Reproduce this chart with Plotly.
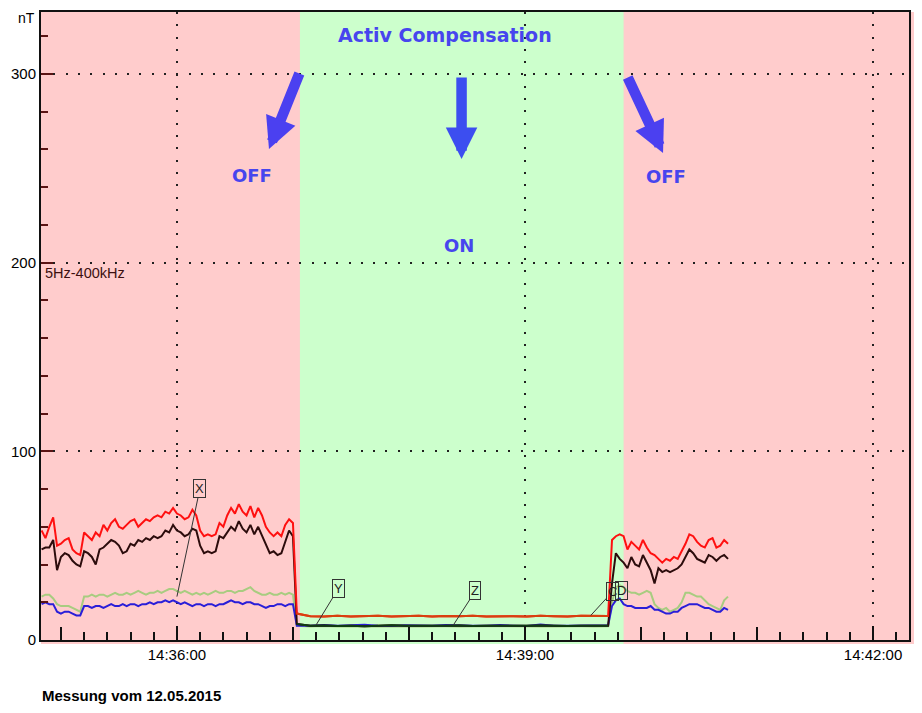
import plotly.graph_objects as go
from datetime import datetime, timedelta

# ---------------- data ----------------
DAY = datetime(2015, 5, 12)


def hms(h, m, s):
    return DAY + timedelta(hours=h, minutes=m, seconds=s)


def time_base(start, step_s, n):
    return [start + timedelta(seconds=step_s * i) for i in range(n)]


# sampling of the three measurement phases
t_off1 = time_base(hms(14, 34, 50), 2, 66)   # compensation OFF
t_on = time_base(hms(14, 37, 2), 7, 24)      # compensation ON
t_off2 = time_base(hms(14, 39, 45), 2, 31)   # compensation OFF

# phase boundaries (green band)
on_start = hms(14, 37, 3.6)
on_end = hms(14, 39, 51)

x_range = [hms(14, 34, 49.7), hms(14, 42, 18.6)]
y_range = [0, 332.8]

# red series (nT)
red_off1 = [58, 54, 60, 65, 50, 51, 53, 54, 48, 46,
            45, 57, 55, 53, 57, 55, 61, 58, 62, 64,
            60, 59, 61, 63, 64, 60, 62, 64, 63, 65,
            66, 65, 68, 67, 70, 67, 66, 64, 65, 69,
            66, 58, 55, 56, 55, 56, 62, 60, 66, 70,
            67, 72, 68, 66, 71, 65, 70, 66, 60, 57,
            55, 57, 55, 61, 64, 62]
red_on = [14, 12.6, 12.4, 12.8, 12.5, 12.7, 12.9, 12.5, 12.6, 12.8, 12.4, 12.7,
          12.6, 12.9, 12.5, 12.7, 12.6, 12.4, 12.8, 12.6, 12.5, 12.9, 12.6, 12.7]
red_off2 = [53, 55, 56, 55, 48, 52, 50, 48, 53, 49,
            46, 45, 43, 41, 43, 42, 44, 43, 47, 51,
            56, 55, 52, 50, 49, 53, 54, 49, 50, 53, 51]

# dark series (nT)
dark_off1 = [48, 49, 49, 53, 37, 44, 46, 45, 42, 40,
             39, 47, 46, 44, 40, 48, 49, 51, 53, 52,
             50, 46, 47, 51, 50, 53, 52, 54, 53, 55,
             54, 55, 58, 57, 61, 58, 57, 55, 56, 59,
             58, 50, 46, 47, 46, 47, 55, 54, 57, 60,
             58, 63, 59, 57, 61, 56, 60, 55, 50, 46,
             47, 45, 46, 52, 58, 55]
dark_on = [8.5, 7.5, 7.7, 7.4, 7.6, 7.3, 7.6, 7.8, 7.5, 7.4, 7.6, 7.5,
           7.7, 7.4, 7.6, 7.5, 7.3, 7.6, 7.7, 7.5, 7.4, 7.6, 7.5, 7.6]
dark_off2 = [30, 46, 43, 41, 38, 44, 40, 39, 45, 41,
             37, 30, 38, 36, 37, 36, 37, 38, 40, 44,
             48, 46, 43, 42, 41, 45, 44, 42, 44, 45, 43]

# light green series (nT)
green_off1 = [23, 24, 24, 22, 19, 18, 18, 18, 17, 16,
              15, 23, 23, 24, 23, 24, 24, 23, 24, 25,
              24, 24, 25, 24, 25, 26, 25, 24, 25, 25,
              26, 25, 26, 27, 27, 26, 25, 26, 25, 24,
              25, 24, 25, 24, 25, 26, 25, 25, 26, 26,
              25, 26, 26, 27, 28, 26, 25, 24, 24, 25,
              24, 24, 25, 24, 25, 24]
green_on = [7.5, 7.2, 7.4, 7.1, 7.3, 7.2, 7.4, 7.3, 7.1, 7.2, 7.4, 7.3,
            7.2, 7.1, 7.3, 7.4, 7.2, 7.3, 7.1, 7.2, 7.4, 7.3, 7.2, 7.3]
green_off2 = [20, 28, 29, 28, 26, 25, 25, 24, 25, 26,
              25, 19, 17, 16, 17, 15, 16, 17, 20, 25,
              25, 24, 23, 23, 21, 19, 18, 17, 16, 21, 23]

# blue series (nT)
blue_off1 = [19, 20, 19, 19, 15, 14, 15, 15, 14, 13,
             13, 18, 18, 17, 18, 18, 17, 18, 19, 18,
             18, 19, 18, 19, 19, 18, 19, 19, 20, 19,
             20, 20, 21, 20, 21, 20, 19, 20, 19, 18,
             19, 19, 18, 19, 19, 18, 19, 19, 20, 21,
             20, 20, 19, 20, 20, 19, 19, 18, 17, 18,
             18, 19, 19, 18, 19, 19]
blue_on = [7.5, 7.6, 7.9, 7.5, 7.7, 8.1, 7.6, 7.4, 7.8, 7.6, 7.5, 8.0,
           7.7, 7.5, 7.6, 7.9, 7.6, 7.4, 8.2, 7.6, 7.5, 7.7, 7.6, 7.8]
blue_off2 = [18, 21, 22, 19, 18, 18, 17, 17, 17, 17,
             18, 16, 16, 15, 14, 14, 15, 15, 17, 18,
             19, 19, 19, 18, 17, 17, 16, 15, 15, 17, 16]

# ---------------- figure ----------------
t_all = t_off1 + t_on + t_off2

fig = go.Figure()


def line(x, y, color, width=2):
    fig.add_trace(go.Scatter(x=x, y=y, mode="lines",
                             line=dict(color=color, width=width),
                             hoverinfo="skip", showlegend=False))


line(t_all, green_off1 + green_on + green_off2, "#a8cc80")
line(t_all, blue_off1 + blue_on + blue_off2, "#2a1ed8")
line(t_all, dark_off1 + dark_on + dark_off2, "#2c0c0c")
line(t_all, red_off1 + red_on + red_off2, "#ff1010")
line(t_on, red_on, "#d8400e")
line(t_on, dark_on, "#0e3c12")

# helper (invisible) trace so the 1-minute tick axis is drawn
fig.add_trace(go.Scatter(x=[x_range[0]], y=[0], xaxis="x2", mode="markers",
                         marker=dict(size=1, opacity=0), hoverinfo="skip",
                         showlegend=False))

# background bands
fig.add_shape(type="rect", xref="paper", yref="paper", x0=0, x1=1.02,
              y0=-0.0065, y1=1, fillcolor="#ffcccc", line_width=0, layer="below")
fig.add_shape(type="rect", xref="x", yref="paper", x0=on_start, x1=on_end,
              y0=-0.0065, y1=1, fillcolor="#ccffcc", line_width=0, layer="below")

BLUE = "#4745ee"
GRID = dict(showgrid=True, gridcolor="#202020", gridwidth=1.6, griddash="2px,10.3px")

# the page body adds an 8px offset, so the figure is sized to sit inside it
fig.update_layout(
    width=906, height=697,
    margin=dict(l=33, r=5, t=4, b=65, autoexpand=False),
    paper_bgcolor="white", plot_bgcolor="rgba(0,0,0,0)",
    showlegend=False, hovermode=False,
    font=dict(family="Liberation Sans, Arial, sans-serif", size=15, color="black"),
    xaxis=dict(type="date", range=x_range, tick0=hms(14, 36, 0), dtick=180000,
               tickformat="%H:%M:%S", ticks="inside", ticklen=14, tickwidth=2,
               tickcolor="#111111", showline=True, linecolor="#111111", linewidth=2,
               mirror=True, zeroline=False, automargin=False,
               minor=dict(tick0=hms(14, 36, 0), dtick=12000, ticks="inside", ticklen=8,
                          tickwidth=2, tickcolor="#111111", showgrid=False),
               **GRID),
    xaxis2=dict(type="date", overlaying="x", anchor="y", side="bottom", range=x_range,
                tick0=hms(14, 36, 0), dtick=60000, ticks="inside", ticklen=13,
                tickwidth=2, tickcolor="#111111", showticklabels=False,
                showgrid=False, showline=False, zeroline=False, automargin=False),
    yaxis=dict(range=y_range, tick0=0, dtick=100, ticks="inside", ticklen=12,
               tickwidth=2, tickcolor="#5a1414", showline=True, linecolor="#111111",
               linewidth=2, mirror=True, zeroline=False, automargin=False,
               minor=dict(dtick=20, ticks="inside", ticklen=7, tickwidth=1.5,
                          tickcolor="#5a1414", showgrid=False),
               **GRID),
)

# axis unit and texts
fig.add_annotation(xref="paper", yref="paper", x=-0.017, y=1.0064, text="nT",
                   showarrow=False, xanchor="center", yanchor="top",
                   font=dict(size=14, color="black"))
fig.add_annotation(xref="paper", yref="y", x=0, y=194.5, xshift=2, text="5Hz-400kHz",
                   showarrow=False, xanchor="left", yanchor="middle",
                   font=dict(size=14.5, color="#3c1010"))
fig.add_annotation(xref="paper", yref="paper", x=-0.001, y=-0.0876,
                   text="<b>Messung vom 12.05.2015</b>", showarrow=False,
                   xanchor="left", yanchor="middle", font=dict(size=15, color="black"))

BIG = dict(family="DejaVu Sans, Verdana, sans-serif", color=BLUE)
fig.add_annotation(x=hms(14, 38, 18.6), y=320.6, text="<b>Activ Compensation</b>",
                   showarrow=False, font=dict(size=19, **BIG))
fig.add_annotation(x=hms(14, 36, 38.8), y=245.9, text="<b>OFF</b>",
                   showarrow=False, font=dict(size=18, **BIG))
fig.add_annotation(x=hms(14, 40, 12.9), y=245.4, text="<b>OFF</b>",
                   showarrow=False, font=dict(size=18, **BIG))
fig.add_annotation(x=hms(14, 38, 25.9), y=208.8, text="<b>ON</b>",
                   showarrow=False, font=dict(size=18, **BIG))

# big blue arrows
for (xt, yt, ax, ay, col) in [
    (hms(14, 36, 47.6), 260.2, 31, -77, "#4b40f0"),
    (hms(14, 38, 27.2), 254.9, 0, -83, "#3c4ef0"),
    (hms(14, 40, 11.4), 258.1, -36, -77, "#4b40f0"),
]:
    fig.add_annotation(x=xt, y=yt, ax=ax, ay=ay, text="", showarrow=True,
                       arrowhead=2, arrowsize=0.6, arrowwidth=10.5, arrowcolor=col)

# channel labels
LBL = dict(showarrow=True, arrowhead=0, arrowwidth=1, arrowcolor="#333333",
           bordercolor="#333333", borderwidth=1, borderpad=1,
           font=dict(size=13, color="#222222"))
fig.add_annotation(x=hms(14, 36, 0), y=23, ax=23, ay=-108, text="X", **LBL)
fig.add_annotation(x=hms(14, 37, 12), y=8, ax=22, ay=-36, text="Y", **LBL)
fig.add_annotation(x=hms(14, 38, 23), y=8, ax=22, ay=-34, text="Z", **LBL)
fig.add_annotation(x=hms(14, 39, 34), y=13, ax=22, ay=-24, text="C", **LBL)
fig.add_annotation(x=hms(14, 39, 50), y=26, text="D", showarrow=False,
                   bordercolor="#333333", borderwidth=1, borderpad=1,
                   font=dict(size=13, color="#222222"))

fig.write_html("out.html")
